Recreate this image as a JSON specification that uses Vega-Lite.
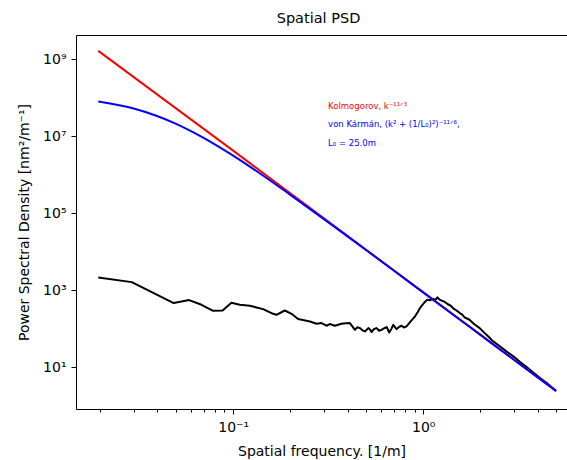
{
  "$schema": "https://vega.github.io/schema/vega-lite/v6.json",
  "width": 491,
  "height": 374,
  "autosize": {"type": "none"},
  "padding": {"left": 76, "top": 35, "right": 0, "bottom": 51},
  "title": {"text": "Spatial PSD", "fontSize": 14.5, "fontWeight": "normal", "font": "DejaVu Sans", "color": "#000000", "anchor": "middle", "frame": "group", "offset": 9, "dx": -3},
  "config": {
    "font": "DejaVu Sans",
    "view": {"stroke": "#000000", "strokeWidth": 1},
    "axis": {"domain": false, "grid": false, "tickColor": "#000000", "tickWidth": 1, "labelColor": "#000000", "titleColor": "#000000", "labelFont": "DejaVu Sans", "titleFont": "DejaVu Sans", "labelFontSize": 14, "titleFontSize": 14, "titleFontWeight": "normal", "labelFlush": false, "labelOverlap": false}
  },
  "datasets": {
    "measured": [
      {"k": 0.01953, "v": 2163}, {"k": 0.0293, "v": 1641}, {"k": 0.0487, "v": 469}, {"k": 0.0587, "v": 560},
      {"k": 0.0682, "v": 423}, {"k": 0.0785, "v": 296}, {"k": 0.088, "v": 301}, {"k": 0.098, "v": 477},
      {"k": 0.1084, "v": 423}, {"k": 0.1224, "v": 398}, {"k": 0.1438, "v": 327}, {"k": 0.1624, "v": 247},
      {"k": 0.1692, "v": 233}, {"k": 0.187, "v": 301}, {"k": 0.2028, "v": 247}, {"k": 0.2197, "v": 180},
      {"k": 0.236, "v": 168}, {"k": 0.2535, "v": 156}, {"k": 0.2748, "v": 136}, {"k": 0.2918, "v": 142},
      {"k": 0.3099, "v": 121}, {"k": 0.3227, "v": 134}, {"k": 0.3429, "v": 121}, {"k": 0.3717, "v": 136},
      {"k": 0.3906, "v": 140}, {"k": 0.4111, "v": 142}, {"k": 0.4229, "v": 118},
      {"k": 0.437, "v": 95}, {"k": 0.4504, "v": 110}, {"k": 0.4643, "v": 105}, {"k": 0.4785, "v": 92},
      {"k": 0.4939, "v": 86}, {"k": 0.5141, "v": 105}, {"k": 0.5249, "v": 96},
      {"k": 0.5351, "v": 83}, {"k": 0.5513, "v": 100}, {"k": 0.5687, "v": 105}, {"k": 0.5859, "v": 90},
      {"k": 0.6044, "v": 95}, {"k": 0.6226, "v": 104}, {"k": 0.6422, "v": 112},
      {"k": 0.6625, "v": 81}, {"k": 0.6797, "v": 100}, {"k": 0.6953, "v": 128}, {"k": 0.7129, "v": 108},
      {"k": 0.7243, "v": 99}, {"k": 0.748, "v": 114}, {"k": 0.7696, "v": 121}, {"k": 0.791, "v": 109},
      {"k": 0.8168, "v": 116}, {"k": 0.8398, "v": 138}, {"k": 0.8677, "v": 166}, {"k": 0.9009, "v": 205},
      {"k": 0.9395, "v": 284}, {"k": 0.961, "v": 347}, {"k": 0.9902, "v": 420},
      {"k": 1.021, "v": 501}, {"k": 1.05, "v": 575}, {"k": 1.084, "v": 556}, {"k": 1.13, "v": 603},
      {"k": 1.16, "v": 570}, {"k": 1.187, "v": 661}, {"k": 1.22, "v": 575}, {"k": 1.243, "v": 550},
      {"k": 1.3, "v": 501}, {"k": 1.348, "v": 437}, {"k": 1.4, "v": 395}, {"k": 1.45, "v": 330},
      {"k": 1.5, "v": 300}, {"k": 1.557, "v": 258}, {"k": 1.6, "v": 240},
      {"k": 1.65, "v": 200}, {"k": 1.751, "v": 173}, {"k": 1.85, "v": 134}, {"k": 1.982, "v": 105},
      {"k": 2.1, "v": 79}, {"k": 2.2, "v": 64},
      {"k": 2.304, "v": 50}, {"k": 2.5, "v": 37}, {"k": 2.75, "v": 25.7}, {"k": 3.0, "v": 19},
      {"k": 3.22, "v": 14.06}, {"k": 3.5, "v": 10.2},
      {"k": 3.79, "v": 7.41}, {"k": 4.1, "v": 5.4}, {"k": 4.45, "v": 3.98}, {"k": 5.0, "v": 2.45}
    ],
    "kolmogorov": [
      {"k": 0.01953, "v": 1649000000}, {"k": 0.1, "v": 4260000}, {"k": 1.0, "v": 891}, {"k": 5.0, "v": 2.438}
    ],
    "karman": [
      {"k": 0.01953, "v": 80400000}, {"k": 0.0293, "v": 54200000}, {"k": 0.0391, "v": 34800000},
      {"k": 0.0488, "v": 22390000}, {"k": 0.0586, "v": 14560000}, {"k": 0.0684, "v": 9710000},
      {"k": 0.0781, "v": 6680000}, {"k": 0.0977, "v": 3390000}, {"k": 0.117, "v": 1900000},
      {"k": 0.146, "v": 905000}, {"k": 0.195, "v": 331000}, {"k": 0.293, "v": 77700},
      {"k": 0.39, "v": 27600}, {"k": 0.5, "v": 11190}, {"k": 0.7, "v": 3277}, {"k": 1.0, "v": 888},
      {"k": 1.5, "v": 201.2}, {"k": 2.0, "v": 70.1}, {"k": 3.0, "v": 15.86}, {"k": 4.0, "v": 5.526},
      {"k": 5.0, "v": 2.438}
    ],
    "labelsRed": [
      {"k": 0.316, "v": 62500000, "label": "Kolmogorov, k⁻¹¹ᐟ³"}
    ],
    "labelsBlue": [
      {"k": 0.316, "v": 20600000, "label": "von Kármán, (k² + (1/L₀)²)⁻¹¹ᐟ⁶,"},
      {"k": 0.316, "v": 6620000, "label": "L₀ = 25.0m"}
    ]
  },
  "encoding": {
    "x": {
      "field": "k", "type": "quantitative",
      "scale": {"type": "log", "domain": [0.01491, 5.705], "nice": false, "zero": false},
      "axis": {
        "title": "Spatial frequency. [1/m]",
        "values": [0.02, 0.03, 0.04, 0.05, 0.06, 0.07, 0.08, 0.09, 0.1, 0.2, 0.3, 0.4, 0.5, 0.6, 0.7, 0.8, 0.9, 1, 2, 3, 4, 5],
        "labelExpr": "datum.value === 0.1 ? '10⁻¹' : (datum.value === 1 ? '10⁰' : '')",
        "tickSize": {"condition": {"test": "datum.value === 0.1 || datum.value === 1", "value": 5}, "value": 3},
        "labelPadding": 6,
        "titlePadding": 10
      }
    },
    "y": {
      "field": "v", "type": "quantitative",
      "scale": {"type": "log", "domain": [0.834, 4270000000], "nice": false, "zero": false},
      "axis": {
        "title": "Power Spectral Density [nm²/m⁻¹]",
        "values": [10, 1000, 100000, 10000000, 1000000000],
        "labelExpr": "datum.value === 10 ? '10¹' : datum.value === 1000 ? '10³' : datum.value === 100000 ? '10⁵' : datum.value === 10000000 ? '10⁷' : '10⁹'",
        "tickSize": 5,
        "labelPadding": 5,
        "titlePadding": 11
      }
    }
  },
  "layer": [
    {"data": {"name": "measured"}, "mark": {"type": "line", "color": "#000000", "strokeWidth": 2, "strokeJoin": "round"}},
    {"data": {"name": "kolmogorov"}, "mark": {"type": "line", "color": "#ff0000", "strokeWidth": 2}},
    {"data": {"name": "karman"}, "mark": {"type": "line", "color": "#0000ff", "strokeWidth": 2, "interpolate": "monotone"}},
    {"data": {"name": "labelsRed"}, "mark": {"type": "text", "align": "left", "baseline": "middle", "fontSize": 8.5, "color": "#ff0000"}, "encoding": {"text": {"field": "label"}}},
    {"data": {"name": "labelsBlue"}, "mark": {"type": "text", "align": "left", "baseline": "middle", "fontSize": 8.5, "color": "#0000ff"}, "encoding": {"text": {"field": "label"}}}
  ]
}
